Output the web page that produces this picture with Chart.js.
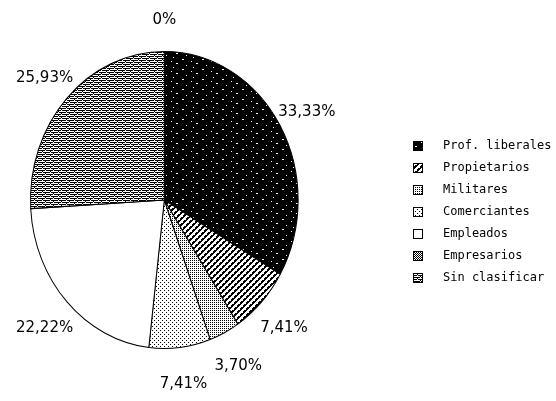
<!DOCTYPE html>
<html>
<head>
<meta charset="utf-8">
<script src="https://cdn.jsdelivr.net/npm/chart.js@4/dist/chart.umd.min.js"></script>
<style>
  html, body { margin: 0; padding: 0; background: #fff; }
</style>
</head>
<body>
<canvas id="pieChart" width="556" height="401"></canvas>
<script>
// slices, clockwise from 12 o'clock (the empty one ends up at the top)
const categories = ['Prof. liberales', 'Propietarios', 'Militares', 'Comerciantes', 'Empleados', 'Sin clasificar', 'Empresarios'];
const shares = [33.33, 7.41, 3.70, 7.41, 22.22, 25.93, 0];
// order the legend lists them in
const legendOrder = ['Prof. liberales', 'Propietarios', 'Militares', 'Comerciantes', 'Empleados', 'Empresarios', 'Sin clasificar'];

const SQUASH = 1.11;   // the pie is a bit taller than wide
const LABEL_DIST = 1.23;

// little bitmap tiles for the fills
function makeTile(w, h, bg, pixels) {
    const c = document.createElement('canvas');
    c.width = w; c.height = h;
    const g = c.getContext('2d');
    g.fillStyle = bg;
    g.fillRect(0, 0, w, h);
    g.fillStyle = bg === '#000' ? '#fff' : '#000';
    pixels.forEach(p => g.fillRect(p[0], p[1], p[2] || 1, p[3] || 1));
    return c;
}

// diagonal dashes for Propietarios
const diag = [];
for (let y = 0; y < 6; y++) {
    for (let x = 0; x < 6; x++) {
        if ((x + y) % 6 < 3 && !(x === 2 && y === 4) && !(x === 5 && y === 1)) diag.push([x, y]);
    }
}

const tiles = {
    'Prof. liberales': makeTile(20, 10, '#000', [[2, 1, 2], [11, 3], [16, 5, 2], [6, 7], [13, 9]]),
    'Propietarios': makeTile(6, 6, '#fff', diag),
    'Militares': makeTile(2, 2, '#fff', [[0, 0]]),
    'Comerciantes': makeTile(4, 4, '#fff', [[0, 0], [2, 2]]),
    'Empleados': makeTile(4, 4, '#fff', []),
    'Empresarios': makeTile(4, 4, '#fff', [[0, 0], [2, 0], [1, 1], [3, 1], [0, 2], [3, 3], [1, 3], [2, 2]]),
    'Sin clasificar': makeTile(8, 4, '#fff', [[0, 0, 5], [6, 0, 2], [2, 1], [0, 2, 2], [3, 2, 5], [5, 3]])
};

const patCtx = document.createElement('canvas').getContext('2d');
const fills = categories.map(name => {
    const pat = patCtx.createPattern(tiles[name], 'repeat');
    // undo the vertical stretch so the dots stay crisp
    pat.setTransform(new DOMMatrix().scale(1, 1 / SQUASH));
    return pat;
});

// legend swatches: 10x10 box inside a wider transparent image
function makeSwatch(name) {
    const c = document.createElement('canvas');
    c.width = 38; c.height = 10;
    const g = c.getContext('2d');
    g.fillStyle = g.createPattern(tiles[name], 'repeat');
    g.fillRect(14, 0, 10, 10);
    g.strokeStyle = '#000';
    g.lineWidth = 1;
    g.strokeRect(14.5, 0.5, 9, 9);
    return c;
}
const swatches = categories.map(makeSwatch);

function fmtShare(v) {
    return v === 0 ? '0%' : v.toFixed(2).replace('.', ',') + '%';
}

// stretch only the arcs vertically
const squashPie = {
    id: 'squashPie',
    beforeDatasetsDraw(chart) {
        const arc = chart.getDatasetMeta(0).data[0];
        const ctx = chart.ctx;
        ctx.save();
        ctx.translate(arc.x, arc.y);
        ctx.scale(1, SQUASH);
        ctx.translate(-arc.x, -arc.y);
    },
    afterDatasetsDraw(chart) {
        chart.ctx.restore();
    }
};

// percentage labels around the pie
const shareLabels = {
    id: 'shareLabels',
    afterDraw(chart) {
        const ctx = chart.ctx;
        ctx.save();
        ctx.font = '15px "DejaVu Sans", sans-serif';
        ctx.fillStyle = '#000';
        ctx.textAlign = 'center';
        ctx.textBaseline = 'middle';
        chart.getDatasetMeta(0).data.forEach((arc, i) => {
            const p = arc.getProps(['x', 'y', 'startAngle', 'endAngle', 'outerRadius'], true);
            const mid = (p.startAngle + p.endAngle) / 2;
            const r = p.outerRadius * LABEL_DIST;
            const x = p.x + Math.cos(mid) * r;
            const y = p.y + Math.sin(mid) * r * SQUASH;
            ctx.fillText(fmtShare(shares[i]), x, y + 3);
        });
        ctx.restore();
    }
};

// move the legend block over to the right
const legendPlace = {
    id: 'legendPlace',
    afterLayout(chart) {
        const lg = chart.legend;
        const dx = 399 - (lg.left + lg.options.labels.padding);
        lg.left += dx;
        lg.right += dx;
        lg.top += 12;
        lg.bottom += 12;
    }
};

const ctx = document.getElementById('pieChart').getContext('2d');
new Chart(ctx, {
    type: 'pie',
    data: {
        labels: categories,
        datasets: [{
            data: shares,
            backgroundColor: fills,
            borderColor: '#000',
            borderWidth: 1
        }]
    },
    options: {
        responsive: false,
        animation: false,
        devicePixelRatio: 1,
        layout: {
            padding: { left: 30, top: 65, bottom: 66, right: 85 }
        },
        plugins: {
            tooltip: { enabled: false },
            legend: {
                position: 'right',
                labels: {
                    color: '#000',
                    font: { family: '"DejaVu Sans Mono", monospace', size: 12 },
                    padding: 10,
                    usePointStyle: true,
                    pointStyleWidth: 38,
                    generateLabels(chart) {
                        const items = Chart.controllers.pie.overrides.plugins.legend.labels.generateLabels(chart);
                        items.forEach(it => { it.pointStyle = swatches[it.index]; });
                        return items;
                    },
                    sort: (a, b) => legendOrder.indexOf(a.text) - legendOrder.indexOf(b.text)
                }
            }
        }
    },
    plugins: [squashPie, shareLabels, legendPlace]
});
</script>
</body>
</html>
